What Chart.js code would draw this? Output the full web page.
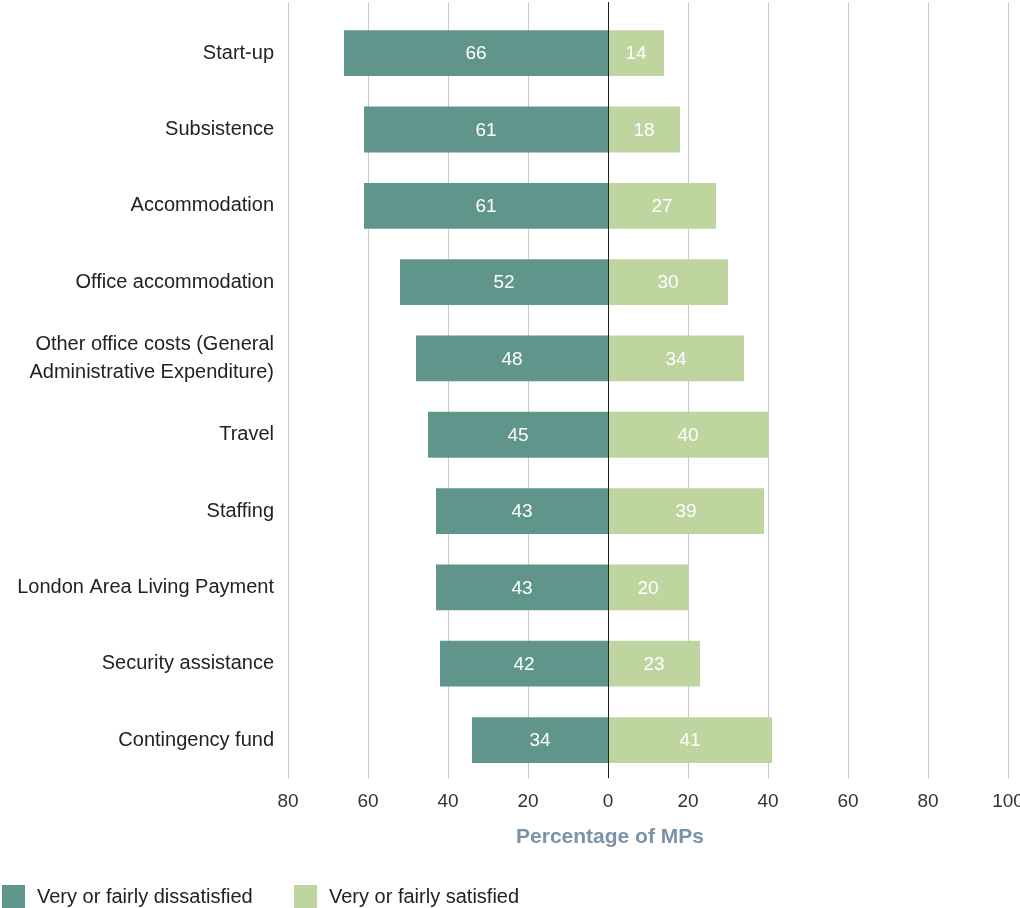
<!DOCTYPE html>
<html>
<head>
<meta charset="utf-8">
<title>Satisfaction with expense categories</title>
<script src="https://cdn.jsdelivr.net/npm/chart.js@4.4.1/dist/chart.umd.min.js"></script>
<style>
  html, body { margin: 0; padding: 0; background: #fff; }
  #wrap { width: 1020px; height: 908px; }
</style>
</head>
<body>
<div id="wrap"><canvas id="chart"></canvas></div>
<script>
const categories = [
  'Start-up',
  'Subsistence',
  'Accommodation',
  'Office accommodation',
  ['Other office costs (General', 'Administrative Expenditure)'],
  'Travel',
  'Staffing',
  'London Area Living Payment',
  'Security assistance',
  'Contingency fund'
];
const dissatisfied = [66, 61, 61, 52, 48, 45, 43, 43, 42, 34];
const satisfied = [14, 18, 27, 30, 34, 40, 39, 20, 23, 41];
const seriesNames = ['Very or fairly dissatisfied', 'Very or fairly satisfied'];
const axisTitle = 'Percentage of MPs';

const DARK = '#60958b';
const LIGHT = '#bed5a0';
const FONT = '"Liberation Sans", Arial, Helvetica, sans-serif';

// vertical grid lines run up past the plot top, so draw them by hand
const gridLines = {
  id: 'gridLines',
  beforeDatasetsDraw(chart) {
    const { ctx, chartArea, scales } = chart;
    ctx.save();
    ctx.strokeStyle = '#cacaca';
    ctx.lineWidth = 1;
    scales.x.ticks.forEach(t => {
      if (t.value === 0) return;
      const x = Math.round(scales.x.getPixelForValue(t.value)) + 0.5;
      ctx.beginPath();
      ctx.moveTo(x, 2);
      ctx.lineTo(x, chartArea.bottom);
      ctx.stroke();
    });
    ctx.restore();
  },
  afterDatasetsDraw(chart) {
    const { ctx, chartArea, scales } = chart;
    ctx.save();
    // zero line
    const x0 = Math.round(scales.x.getPixelForValue(0)) + 0.5;
    ctx.strokeStyle = '#222';
    ctx.beginPath();
    ctx.moveTo(x0, 2);
    ctx.lineTo(x0, chartArea.bottom);
    ctx.stroke();

    // values inside the bars
    ctx.fillStyle = '#fff';
    ctx.font = '19px ' + FONT;
    ctx.textAlign = 'center';
    ctx.textBaseline = 'middle';
    chart.data.datasets.forEach((ds, di) => {
      chart.getDatasetMeta(di).data.forEach((bar, i) => {
        const p = bar.getCenterPoint();
        ctx.fillText(Math.abs(ds.data[i]), p.x, p.y + 1);
      });
    });
    ctx.restore();
  },
  afterDraw(chart) {
    const { ctx, scales } = chart;
    ctx.save();
    // axis title, centred on zero
    ctx.fillStyle = '#7c92a9';
    ctx.font = 'bold 21px ' + FONT;
    ctx.textAlign = 'center';
    ctx.textBaseline = 'middle';
    ctx.fillText(axisTitle, scales.x.getPixelForValue(0) + 2, 837);

    // legend
    const items = [{ x: 2 }, { x: 294 }];
    ctx.font = '20px ' + FONT;
    ctx.textAlign = 'left';
    chart.data.datasets.forEach((ds, i) => {
      const x = items[i].x;
      ctx.fillStyle = ds.backgroundColor;
      ctx.fillRect(x, 885, 23, 23);
      ctx.fillStyle = '#222';
      ctx.fillText(ds.label, x + 35, 897);
    });
    ctx.restore();
  }
};

new Chart(document.getElementById('chart'), {
  type: 'bar',
  data: {
    labels: categories,
    datasets: [
      {
        label: seriesNames[0],
        data: dissatisfied.map(v => -v),
        backgroundColor: DARK,
        barPercentage: 0.6,
        categoryPercentage: 1
      },
      {
        label: seriesNames[1],
        data: satisfied,
        backgroundColor: LIGHT,
        barPercentage: 0.6,
        categoryPercentage: 1
      }
    ]
  },
  options: {
    indexAxis: 'y',
    responsive: true,
    maintainAspectRatio: false,
    animation: false,
    layout: { padding: { top: 15, right: 12, bottom: 91, left: 0 } },
    plugins: {
      legend: { display: false },
      tooltip: { enabled: false }
    },
    scales: {
      x: {
        stacked: true,
        min: -80,
        max: 100,
        grid: { display: false },
        border: { display: false },
        ticks: {
          stepSize: 20,
          padding: 4,
          color: '#333',
          font: { family: FONT, size: 19 },
          maxRotation: 0,
          callback: v => Math.abs(v)
        },
        afterFit(scale) {
          scale.paddingRight = 0;
          scale.paddingLeft = 0;
        }
      },
      y: {
        stacked: true,
        grid: { display: false },
        border: { display: false },
        ticks: {
          padding: 6,
          color: '#222',
          font: { family: FONT, size: 20, lineHeight: 1.4 }
        },
        afterFit(scale) {
          scale.width = 288;
          scale.paddingTop = 0;
          scale.paddingBottom = 0;
        }
      }
    }
  },
  plugins: [gridLines]
});
</script>
</body>
</html>
